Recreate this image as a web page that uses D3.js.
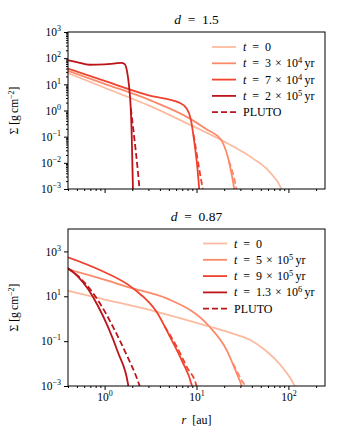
<!DOCTYPE html>
<html lang="en">
<head>
<meta charset="UTF-8">
<title>Surface density profiles</title>
<script src="https://d3js.org/d3.v7.min.js"></script>
<style>
  body { margin: 0; background: #fff; }
  svg { display: block; font-family: "Liberation Serif", "DejaVu Serif", serif; }
  .tick text { font-size: 11.5px; fill: #000; font-family: "Liberation Serif", serif; }
  .tick line { stroke: #000; }
</style>
</head>
<body>
<svg width="338" height="439"></svg>
<script>
// radius range shared by both panels (au)
const rDomain = [0.4, 250];
const rMajor = [1, 10, 100];
const rMinor = [0.4, 0.5, 0.6, 0.7, 0.8, 0.9, 2, 3, 4, 5, 6, 7, 8, 9, 20, 30, 40, 50, 60, 70, 80, 90, 200];

// colours for t = 0 ... last snapshot
const colors = ["#fcbba1", "#fc8a6a", "#f0432f", "#bc141a"];

// top panel, d = 1.5   [r (au), Sigma (g cm^-2)]
const topTimes = [null, ["3", "4"], ["7", "4"], ["2", "5"]];
const topSigmaTicks = [1e-3, 1e-2, 1e-1, 1, 1e1, 1e2, 1e3];
const topT0 = [[0.4, 27], [1, 7.4], [3.1, 1.5], [8.4, 0.29], [18.6, 0.074], [41, 0.0148], [62, 0.0046], [83, 0.0011], [95, 0.0003]];
const topT1 = [[0.4, 33], [1, 10.5], [3.1, 2.5], [8.4, 0.5], [12.6, 0.2], [18.6, 0.074], [20.1, 0.042], [21.9, 0.017], [24, 0.004], [25.7, 0.001], [26.5, 0.0004]];
const topT2 = [[0.4, 40], [1, 13.5], [3.1, 3.7], [6.5, 2.0], [7.8, 1.2], [8.7, 0.44], [9.5, 0.056], [10.2, 0.007], [10.7, 0.001], [11, 0.0003]];
const topT3 = [[0.4, 83], [0.5, 70], [0.69, 56], [1, 58], [1.3, 63], [1.52, 66], [1.65, 60], [1.76, 30], [1.85, 8], [1.92, 1.5], [1.97, 0.15], [2.0, 0.015], [2.03, 0.0015], [2.05, 0.0004]];
const topP1 = [[22.5, 0.012], [24.5, 0.0048], [26, 0.0022], [27.2, 0.001], [28, 0.0005]];
const topP2 = [[9.3, 0.12], [10.0, 0.025], [10.9, 0.004], [11.7, 0.001], [12.1, 0.0005]];
const topP3 = [[1.93, 1.2], [2.05, 0.2], [2.18, 0.03], [2.3, 0.005], [2.4, 0.001], [2.45, 0.0005]];

// bottom panel, d = 0.87
const botTimes = [null, ["5", "5"], ["9", "5"], ["1.3", "6"]];
const botSigmaTicks = [1e-3, 1e-1, 1e1, 1e3];
const botT0 = [[0.4, 17.7], [0.89, 8.1], [3.69, 2.04], [13.8, 0.45], [23, 0.24], [38, 0.115], [53, 0.047], [88, 0.006], [117, 0.001], [125, 0.0005]];
const botT1 = [[0.4, 158], [0.89, 63], [2.06, 22], [4.74, 8.1], [13.8, 0.45], [21.3, 0.04], [27.4, 0.0036], [31, 0.001], [32, 0.0006]];
const botT2 = [[0.4, 550], [0.89, 148], [2.06, 22], [3.69, 2.0], [5.15, 0.155], [6.9, 0.014], [8.87, 0.0011], [9.1, 0.0007]];
const botT3 = [[0.4, 176], [0.514, 76], [0.661, 21], [0.848, 3.7], [1.089, 0.43], [1.4, 0.031], [1.8, 0.0012], [1.86, 0.0005]];
const botP1 = [[25, 0.01], [28.5, 0.0035], [31.5, 0.0016], [33.7, 0.001], [34.5, 0.0007]];
const botP2 = [[4.5, 0.45], [6.1, 0.056], [7.85, 0.007], [10.0, 0.001], [10.3, 0.0006]];
const botP3 = [[0.4, 176], [0.52, 76], [0.693, 21], [0.927, 3.7], [1.236, 0.43], [1.69, 0.031], [2.34, 0.0014], [2.45, 0.0008]];

const svg = d3.select("svg");
const left = 68, right = 325;

// "10^n" as text with a raised exponent
function powerLabel(sel, d) {
  const e = Math.round(Math.log10(d));
  sel.text(null);
  sel.append("tspan").text("10");
  sel.append("tspan").attr("dy", -5).attr("font-size", 8).text(e < 0 ? "\u2212" + (-e) : e);
}

function drawPanel(p) {
  const x = d3.scaleLog().domain(rDomain).range([left, right]);
  const y = d3.scaleLog().domain(p.sigmaDomain).range([p.bottom, p.top]);

  svg.append("clipPath").attr("id", p.id)
    .append("rect").attr("x", left).attr("y", p.top)
    .attr("width", right - left).attr("height", p.bottom - p.top);

  const line = d3.line().x(d => x(d[0])).y(d => y(d[1])).curve(d3.curveMonotoneX);
  const g = svg.append("g").attr("clip-path", `url(#${p.id})`);

  p.solid.forEach((s, i) => {
    g.append("path").attr("d", line(s)).attr("fill", "none")
      .attr("stroke", colors[i]).attr("stroke-width", 1.8);
  });
  p.dashed.forEach(([s, i]) => {
    g.append("path").attr("d", line(s)).attr("fill", "none")
      .attr("stroke", colors[i]).attr("stroke-width", 1.8)
      .attr("stroke-dasharray", "6,3");
  });

  // x axis
  const xa = svg.append("g").attr("transform", `translate(0,${p.bottom})`)
    .call(d3.axisBottom(x).tickValues(rMajor).tickSize(4).tickSizeOuter(0).tickPadding(3)
      .tickFormat(p.xLabels ? d => d : ""));
  xa.select(".domain").remove();
  if (p.xLabels) xa.selectAll(".tick text").each(function(d) { powerLabel(d3.select(this), d); });
  svg.append("g").attr("transform", `translate(0,${p.bottom})`)
    .call(d3.axisBottom(x).tickValues(rMinor).tickSize(2).tickSizeOuter(0).tickFormat(""))
    .select(".domain").remove();

  // y axis
  const ya = svg.append("g").attr("transform", `translate(${left},0)`)
    .call(d3.axisLeft(y).tickValues(p.sigmaTicks).tickSize(4).tickSizeOuter(0).tickPadding(3));
  ya.select(".domain").remove();
  ya.selectAll(".tick text").each(function(d) { powerLabel(d3.select(this), d); });
  if (p.yMinor) {
    const minor = [];
    d3.range(-3, 3).forEach(e => d3.range(2, 10).forEach(m => minor.push(m * Math.pow(10, e))));
    svg.append("g").attr("transform", `translate(${left},0)`)
      .call(d3.axisLeft(y).tickValues(minor).tickSize(2).tickSizeOuter(0).tickFormat(""))
      .select(".domain").remove();
  }

  // frame
  svg.append("rect").attr("x", left).attr("y", p.top)
    .attr("width", right - left).attr("height", p.bottom - p.top)
    .attr("fill", "none").attr("stroke", "#000").attr("stroke-width", 1);

  // y label
  const yl = svg.append("text")
    .attr("transform", `translate(18,${(p.top + p.bottom) / 2}) rotate(-90)`)
    .attr("text-anchor", "middle").attr("font-size", 11.5);
  yl.append("tspan").text("\u03A3 [g\u2009cm");
  yl.append("tspan").attr("dy", -4).attr("font-size", 8).text("\u22122");
  yl.append("tspan").attr("dy", 4).text("]");

  // title
  const tt = svg.append("text").attr("x", (left + right) / 2).attr("y", p.top - 8)
    .attr("text-anchor", "middle").attr("font-size", 13.5);
  tt.append("tspan").attr("font-style", "italic").text("d");
  tt.append("tspan").text("\u2002=\u2002" + p.d);

  // legend
  const lg = svg.append("g");
  const rows = p.times.length + 1;
  for (let i = 0; i < rows; i++) {
    const yy = p.legendY + i * 16.3;
    const pluto = i === p.times.length;
    lg.append("line").attr("x1", p.legendX).attr("x2", p.legendX + 24)
      .attr("y1", yy).attr("y2", yy)
      .attr("stroke", pluto ? colors[3] : colors[i]).attr("stroke-width", 1.8)
      .attr("stroke-dasharray", pluto ? "6,3" : null);
    const t = lg.append("text").attr("x", p.legendX + 31).attr("y", yy + 4).attr("font-size", 12);
    if (pluto) { t.text("PLUTO"); continue; }
    t.append("tspan").attr("font-style", "italic").text("t");
    const tm = p.times[i];
    if (!tm) { t.append("tspan").text("\u2002=\u20020"); continue; }
    t.append("tspan").text("\u2002=\u2002" + tm[0] + "\u2004\u00D7\u200410");
    t.append("tspan").attr("dy", -4).attr("font-size", 8.5).text(tm[1]);
    t.append("tspan").attr("dy", 4).text("\u2009yr");
  }
}

drawPanel({
  id: "clipTop", top: 32, bottom: 189, sigmaDomain: [1e-3, 1e3], sigmaTicks: topSigmaTicks,
  yMinor: true, xLabels: false, d: "1.5", times: topTimes, legendX: 212, legendY: 47,
  solid: [topT0, topT1, topT2, topT3], dashed: [[topP1, 1], [topP2, 2], [topP3, 3]]
});

drawPanel({
  id: "clipBot", top: 229, bottom: 386, sigmaDomain: [1e-3, 1e4], sigmaTicks: botSigmaTicks,
  yMinor: false, xLabels: true, d: "0.87", times: botTimes, legendX: 203, legendY: 243.5,
  solid: [botT0, botT1, botT2, botT3], dashed: [[botP1, 1], [botP2, 2], [botP3, 3]]
});

// x label
const xl = svg.append("text").attr("x", (left + right) / 2).attr("y", 424)
  .attr("text-anchor", "middle").attr("font-size", 12);
xl.append("tspan").attr("font-style", "italic").text("r");
xl.append("tspan").text("\u2002[au]");
</script>
</body>
</html>
